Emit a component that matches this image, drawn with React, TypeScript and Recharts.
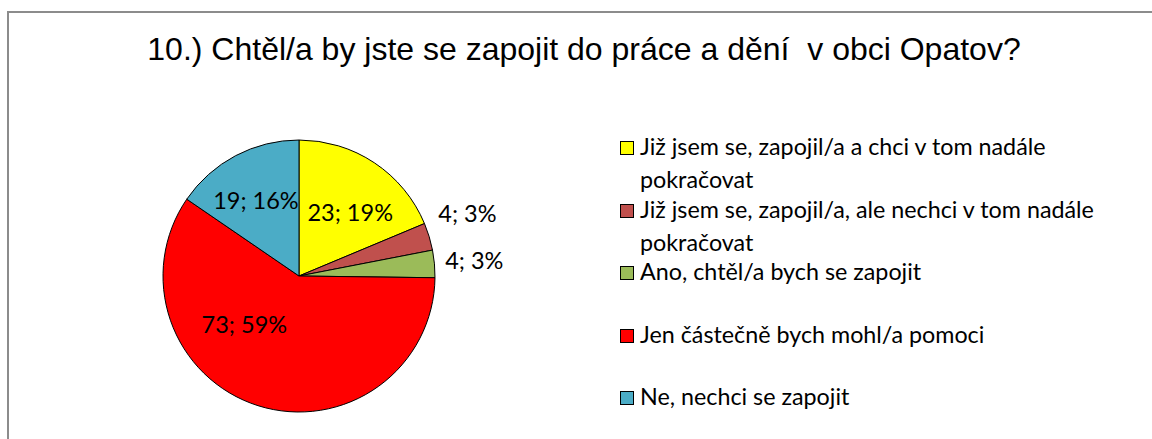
import React from 'react'
import { Cell, Legend, Pie, PieChart } from 'recharts'

const categories = [
  'Již jsem se, zapojil/a a chci v tom nadále pokračovat',
  'Již jsem se, zapojil/a, ale nechci v tom nadále pokračovat',
  'Ano, chtěl/a bych se zapojit',
  'Jen částečně bych mohl/a pomoci',
  'Ne, nechci se zapojit',
]
const counts = [23, 4, 4, 73, 19]
const percents = [19, 3, 3, 59, 16]
const colors = ['#FFFF00', '#C0504D', '#9BBB59', '#FF0000', '#4BACC6']
const legendLines = [
  ['Již jsem se, zapojil/a a chci v tom nadále', 'pokračovat'],
  ['Již jsem se, zapojil/a, ale nechci v tom nadále', 'pokračovat'],
  ['Ano, chtěl/a bych se zapojit'],
  ['Jen částečně bych mohl/a pomoci'],
  ['Ne, nechci se zapojit'],
]
const title = '10.) Chtěl/a by jste se zapojit do práce a dění\u00a0 v obci Opatov?'

const data = categories.map((name, i) => ({ name, value: counts[i], pct: percents[i] }))

const FONT = 'Lato, "Open Sans", sans-serif'
const RAD = Math.PI / 180

function renderLabel(props: any) {
  const { cx, cy, midAngle, outerRadius, index } = props
  const small = percents[index] < 5
  const r = small ? outerRadius + 40 : outerRadius * 0.6
  let x = cx + r * Math.cos(-midAngle * RAD)
  let y = cy + r * Math.sin(-midAngle * RAD)
  // Excel's best-fit placement differs a little from the pure mid-angle spot
  if (index === 0) {
    x += 6
    y += 4
  }
  if (index === 4) {
    x -= 5
    y -= 4
  }
  if (index === 3) {
    x -= 30
    y -= 30
  }
  if (index === 1) y -= 12
  return (
    <text
      x={x}
      y={y}
      textAnchor="middle"
      dominantBaseline="central"
      fontFamily={FONT}
      fontSize={23.5}
      fill="#000"
    >
      {`${counts[index]}; ${percents[index]}%`}
    </text>
  )
}

function LegendBox() {
  return (
    <div style={{ fontFamily: FONT, fontSize: 23.3, color: '#000' }}>
      {legendLines.map((lines, i) => (
        <div key={i} style={{ height: 62.5, display: 'flex', alignItems: 'flex-start' }}>
          <div
            style={{
              width: 12,
              height: 12,
              background: colors[i],
              border: '1px solid #000',
              marginTop: 11,
              marginRight: 6,
              flexShrink: 0,
            }}
          />
          <div style={{ lineHeight: '33px' }}>
            {lines.map((l, j) => (
              <div key={j} style={{ whiteSpace: 'nowrap' }}>{l}</div>
            ))}
          </div>
        </div>
      ))}
    </div>
  )
}

export default function App() {
  return (
    <div style={{ position: 'absolute', left: 0, top: 0, width: 1152, height: 439, background: '#fff', overflow: 'hidden' }}>
      <div
        style={{
          position: 'absolute',
          left: 7,
          top: 11,
          width: 1200,
          height: 500,
          borderLeft: '2px solid #8c8c8c',
          borderTop: '2px solid #8c8c8c',
        }}
      />
      <div
        style={{
          position: 'absolute',
          left: 0,
          top: 29,
          width: 1168,
          textAlign: 'center',
          fontFamily: '"Liberation Sans", Arial, sans-serif',
          fontSize: 32,
          lineHeight: '40px',
          whiteSpace: 'pre',
        }}
      >
        {title}
      </div>
      <div style={{ position: 'absolute', left: 0, top: 0 }}>
        <PieChart width={1152} height={439}>
          <Pie
            data={data}
            dataKey="value"
            cx={294}
            cy={271}
            outerRadius={136}
            startAngle={90}
            endAngle={-270}
            stroke="#000"
            strokeWidth={1}
            label={renderLabel}
            labelLine={false}
            isAnimationActive={false}
          >
            {data.map((_, i) => (
              <Cell key={i} fill={colors[i]} />
            ))}
          </Pie>
          <Legend
            content={() => <LegendBox />}
            wrapperStyle={{ position: 'absolute', left: 620, top: 130, width: 520 }}
          />
        </PieChart>
      </div>
    </div>
  )
}
